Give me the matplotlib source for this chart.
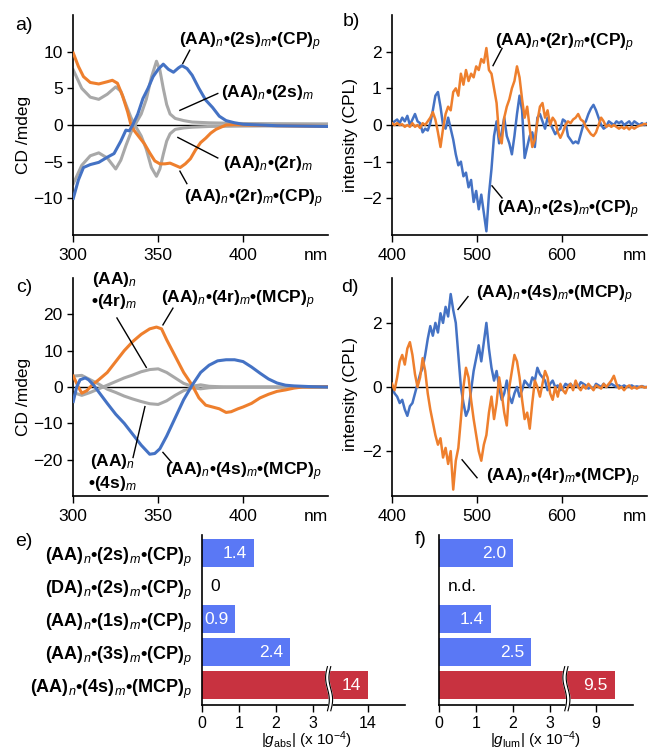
import numpy as np
import matplotlib
matplotlib.use('Agg')
import matplotlib.pyplot as plt

plt.rcParams['font.family'] = ['Liberation Sans', 'DejaVu Sans']
plt.rcParams['mathtext.fontset'] = 'custom'
plt.rcParams['mathtext.rm'] = 'Liberation Sans'
plt.rcParams['mathtext.it'] = 'Liberation Sans:italic'
plt.rcParams['mathtext.bf'] = 'Liberation Sans:bold'
plt.rcParams['axes.linewidth'] = 1.2
plt.rcParams['xtick.major.width'] = 1.0
plt.rcParams['ytick.major.width'] = 1.0
plt.rcParams['xtick.major.size'] = 5
plt.rcParams['xtick.major.pad'] = 4.5
plt.rcParams['ytick.major.size'] = 4
plt.rcParams['font.size'] = 12.5

BLUE = '#4472c4'
ORANGE = '#ee7f2d'
GREY = '#a8a8a8'
BAR_BLUE = '#5a78f5'
BAR_RED = '#c83240'

# ---- a) CD, 2s / 2r series ----
a_blue_x = [300, 303, 306, 310, 315, 320, 324, 328, 331, 333, 335, 338, 341, 344, 347, 350, 353, 356, 359,
            362, 364, 367, 370, 374, 378, 382, 386, 390, 395, 400, 410, 420, 435, 450]
a_blue_y = [-10, -7.5, -5.8, -5.4, -5.1, -4.4, -3.9, -2.2, -0.7, -0.8, 0.0, 1.5, 3.6, 5.0, 6.6, 7.6, 8.3, 7.6, 7.2,
            7.8, 8.1, 7.7, 6.8, 5.0, 3.4, 2.4, 1.2, 0.6, 0.3, 0.1, 0.0, -0.1, -0.15, -0.2]
a_orange_x = [300, 303, 306, 310, 315, 320, 323, 326, 329, 332, 334, 336, 339, 342, 345, 348, 351, 354, 357,
              360, 363, 366, 369, 372, 375, 378, 381, 384, 387, 390, 395, 400, 420, 450]
a_orange_y = [9.8, 8.0, 6.6, 5.8, 5.6, 5.9, 6.1, 5.7, 4.0, 1.8, 0.0, -0.8, -1.7, -2.6, -3.8, -4.9, -5.3, -5.3, -5.2,
              -5.5, -5.8, -5.3, -4.6, -3.4, -2.4, -1.8, -1.1, -0.6, -0.3, 0.0, 0.05, 0.0, -0.1, -0.2]
a_grey_x = [300, 305, 310, 315, 320, 325, 328, 331, 334, 337, 340, 343, 346, 349, 351, 353, 355, 357, 360,
            365, 370, 380, 400, 450]
a_grey_2s = [-8.0, -5.5, -4.2, -3.8, -4.5, -6.0, -4.8, -2.8, -1.0, 0.3, 1.5, 3.5, 6.5, 8.7, 7.5, 5.0, 2.8, 1.5, 0.9,
             0.6, 0.4, 0.3, 0.2, 0.15]
a_grey_2r = [7.5, 5.0, 3.8, 3.5, 4.2, 5.2, 4.6, 2.8, 1.0, -0.3, -1.5, -3.3, -5.8, -7.0, -6.0, -4.0, -2.2, -1.2, -0.6,
             -0.4, -0.3, -0.2, -0.15, -0.1]

# ---- b) CPL, 2s / 2r with CP ----
b_x = list(range(400, 701, 3))
b_blue = [0.05, 0.1, 0.15, 0.05, 0.2, 0.1, 0.25, 0.0, 0.15, 0.3, 0.1, 0.05, -0.2, -0.1, -0.15, 0.05, 0.4, 0.8, 0.9,
          0.5, 0.0, -0.1, 0.2, -0.1, -0.4, -0.8, -1.1, -1.0, -1.4, -1.3, -1.7, -1.5, -2.1, -1.8, -2.3, -1.9, -2.4,
          -2.9, -1.9, -1.2, -0.3, 0.1, -0.5, -0.2, 0.2, -0.3, -0.5, -0.8, -0.3, 0.3, 0.8, 0.4, -0.9, -0.6, -0.3,
          -0.2, -0.6, 0.2, 0.3, 0.1, -0.1, 0.2, 0.05, -0.1, -0.25, -0.15, -0.1, 0.15, 0.1, -0.3, -0.4, -0.5, -0.45,
          -0.5, -0.25, 0.0, 0.1, 0.3, 0.45, 0.55, 0.4, 0.2, 0.0, -0.1, -0.05, 0.1, 0.05, 0.0, 0.1, 0.05, 0.1, 0.0,
          0.05, 0.1, 0.0, 0.1, 0.05, 0.0, 0.05, 0.0, 0.05]
b_orange = [0.05, 0.0, 0.05, 0.0, 0.02, -0.05, 0.0, -0.05, 0.05, -0.05, 0.0, -0.08, 0.05, 0.0, 0.1, 0.2, 0.35, 0.15,
            -0.2, -0.6, -0.1, 0.3, 0.5, 0.4, 0.9, 1.0, 0.8, 1.4, 1.1, 1.5, 1.2, 1.4, 1.3, 1.6, 1.5, 1.8, 1.7, 2.1,
            1.5, 1.4, 1.0, 0.6, -0.3, -0.5, 0.2, 0.5, 0.7, 1.0, 1.2, 1.6, 1.3, 0.7, 0.2, 0.5, -0.1, -0.6, -0.4,
            0.1, 0.5, 0.6, 0.2, 0.4, 0.0, 0.2, 0.1, -0.2, -0.35, -0.2, 0.0, 0.1, 0.05, 0.15, 0.2, 0.3, 0.15, 0.1,
            -0.05, -0.15, -0.25, -0.3, -0.2, 0.0, 0.2, 0.1, -0.05, 0.0, -0.05, 0.0, -0.05, -0.1, -0.05, -0.1,
            -0.05, -0.12, -0.05, -0.1, -0.05, -0.02, 0.0, 0.03, 0.02]

# ---- c) CD, 4s / 4r series ----
c_orange_x = [300, 303, 305, 308, 311, 315, 320, 325, 330, 335, 340, 345, 349, 352, 355, 360, 365, 370, 374, 378,
              382, 386, 390, 393, 397, 400, 405, 410, 415, 420, 425, 430, 435, 440, 450]
c_orange_y = [3.0, 0.0, -1.7, -1.0, 0.5, 2.0, 4.0, 7.0, 10.0, 12.5, 14.5, 16.0, 16.5, 16.0, 13.0, 8.5, 4.0, 0.5,
              -3.0, -5.0, -5.5, -6.0, -7.0, -6.8, -6.0, -5.5, -4.5, -3.0, -2.0, -1.2, -0.8, -0.3, 0.0, 0.0, 0.1]
c_blue_x = [300, 302, 304, 307, 309, 312, 316, 320, 325, 330, 335, 340, 345, 348, 351, 355, 360, 365, 370, 375,
            380, 385, 390, 395, 400, 405, 410, 415, 420, 425, 430, 440, 450]
c_blue_y = [-4.0, 0.0, 2.0, 2.5, 2.0, 0.5, -2.0, -4.5, -7.5, -10.0, -13.0, -16.0, -18.5, -18.3, -17.0, -13.5, -8.5,
            -3.5, 0.5, 4.0, 6.0, 7.2, 7.5, 7.5, 7.0, 5.5, 3.8, 2.2, 1.1, 0.5, 0.3, 0.1, 0.0]
c_grey_x = [300, 305, 310, 315, 320, 325, 330, 335, 340, 345, 350, 355, 360, 365, 370, 375, 380, 390, 400, 450]
c_grey_4r = [-1.5, -2.3, -1.5, -0.5, 0.5, 1.5, 2.5, 3.3, 4.2, 4.8, 5.0, 4.0, 2.5, 1.0, 0.2, 0.6, 0.2, 0.0, 0.0, 0.0]
c_grey_4s = [3.0, 3.2, 2.0, 0.8, -0.6, -1.5, -2.5, -3.3, -4.0, -4.6, -4.8, -3.8, -2.3, -1.0, -0.2, -0.5, -0.2, 0.0,
             0.0, 0.0]

# ---- d) CPL, 4s / 4r with MCP ----
d_x = list(range(400, 701, 3))
d_blue = [0.0, -0.2, -0.3, -0.5, -0.4, -0.7, -0.9, -0.6, -0.5, -0.2, 0.1, 0.4, 0.6, 1.0, 1.5, 1.9, 1.6, 2.0, 1.7,
          2.3, 2.0, 2.5, 2.2, 2.9, 2.4, 2.0, 1.0, 0.0, -0.5, -0.9, -0.7, -0.1, 0.5, 0.9, 1.3, 0.8, 1.4, 2.0, 1.2,
          0.6, 0.2, 0.5, 0.0, -0.4, -0.2, 0.2, -0.3, -0.5, -0.2, 0.0, -0.3, -0.1, 0.2, 0.1, 0.0, 0.3, 0.2, 0.6,
          0.4, 0.3, 0.2, -0.1, 0.1, 0.2, 0.0, 0.05, -0.1, -0.05, 0.1, 0.05, 0.1, 0.0, 0.05, 0.0, 0.15, 0.1, 0.05,
          -0.05, 0.0, -0.05, 0.1, 0.05, 0.0, 0.1, 0.0, 0.05, 0.1, 0.05, 0.0, 0.05, 0.0, 0.05, 0.0, 0.02, 0.05, 0.0,
          0.02, 0.0, 0.03, 0.0, 0.0]
d_orange = [0.1, -0.1, 0.3, 0.8, 1.0, 0.7, 1.2, 1.4, 1.0, 0.4, 0.0, 0.3, 0.9, 0.5, -0.2, -0.7, -1.1, -1.5, -1.8,
            -1.6, -2.2, -1.9, -2.4, -2.0, -3.2, -2.3, -1.9, -1.0, 0.0, 0.6, 0.3, -0.4, -1.0, -1.5, -2.0, -2.3, -1.8,
            -1.5, -0.8, -0.3, -1.0, -0.5, 0.3, -0.2, -0.8, -1.2, 0.0, 0.5, 1.0, 0.8, 0.3, -0.4, -1.0, -0.8, -1.3,
            -0.5, 0.2, 0.0, -0.3, 0.1, 0.5, 0.3, -0.2, -0.4, 0.0, -0.3, 0.1, -0.1, -0.2, 0.0, 0.1, -0.1, 0.2, 0.0,
            -0.1, 0.05, -0.05, 0.1, 0.0, -0.1, 0.05, 0.0, -0.05, 0.1, 0.0, 0.1, 0.2, 0.35, 0.1, -0.05, 0.0, -0.1,
            0.0, 0.05, -0.05, 0.0, -0.05, 0.0, 0.02, -0.02, 0.0]

# ---- e) / f) dissymmetry factors ----
samples = ['(AA)$_n$•(2s)$_m$•(CP)$_p$', '(DA)$_n$•(2s)$_m$•(CP)$_p$', '(AA)$_n$•(1s)$_m$•(CP)$_p$',
           '(AA)$_n$•(3s)$_m$•(CP)$_p$', '(AA)$_n$•(4s)$_m$•(MCP)$_p$']
g_abs = [1.4, 0, 0.9, 2.4, 14]
g_lum = [2.0, np.nan, 1.4, 2.5, 9.5]
bar_colors = [BAR_BLUE, BAR_BLUE, BAR_BLUE, BAR_BLUE, BAR_RED]

fig = plt.figure(figsize=(6.48, 7.53), dpi=100)
ax_a = fig.add_axes([0.1131, 0.688, 0.393, 0.292])
ax_b = fig.add_axes([0.605, 0.688, 0.3935, 0.292])
ax_c = fig.add_axes([0.1131, 0.3413, 0.393, 0.2895])
ax_d = fig.add_axes([0.605, 0.3413, 0.3935, 0.2895])
ax_e = fig.add_axes([0.3117, 0.064, 0.3133, 0.2255])
ax_f = fig.add_axes([0.6775, 0.064, 0.2994, 0.2255])


def style_spec(ax, xlim, ylim, xticks, yticks, ylabel, lab_xy):
    ax.axhline(0, color='black', lw=1.0, zorder=1)
    ax.set_xlim(xlim)
    ax.set_ylim(ylim)
    ax.set_xticks(xticks)
    ax.set_yticks(yticks)
    for s in ['top', 'right']:
        ax.spines[s].set_visible(False)
    ax.set_ylabel(ylabel)
    ax.yaxis.set_label_coords(*lab_xy)
    ax.annotate('nm', (1, 0), xycoords='axes fraction', xytext=(0, -9.5), textcoords='offset points',
                ha='right', va='top')


def label(ax, txt, xy, line):
    (x0, y0), (x1, y1) = line
    ax.plot([x0, x1], [y0, y1], color='black', lw=1.0, zorder=4)
    ax.text(xy[0], xy[1], txt, ha='center', va='center', fontweight='bold')


# a)
ax_a.plot(a_grey_x, a_grey_2s, color=GREY, lw=2.2, zorder=2)
ax_a.plot(a_grey_x, a_grey_2r, color=GREY, lw=2.2, zorder=2)
ax_a.plot(a_orange_x, a_orange_y, color=ORANGE, lw=2.2, zorder=3)
ax_a.plot(a_blue_x, a_blue_y, color=BLUE, lw=2.2, zorder=3)
style_spec(ax_a, (300, 450), (-15, 15), [300, 350, 400], [-10, -5, 0, 5, 10], 'CD /mdeg', (-0.165, 0.455))
label(ax_a, '(AA)$_n$•(2s)$_m$•(CP)$_p$', (404, 11.3), ((364.5, 8.4), (368.6, 10.2)))
label(ax_a, '(AA)$_n$•(2s)$_m$', (414.6, 4.4), ((362.8, 2.0), (385.1, 4.3)))
label(ax_a, '(AA)$_n$•(2r)$_m$', (414.6, -5.2), ((361.6, -1.7), (385.1, -4.5)))
label(ax_a, '(AA)$_n$•(2r)$_m$•(CP)$_p$', (406.3, -10), ((362.8, -6.3), (366.9, -8.0)))

# b)
ax_b.plot(b_x, b_blue, color=BLUE, lw=1.8, zorder=2)
ax_b.plot(b_x, b_orange, color=ORANGE, lw=1.8, zorder=3)
style_spec(ax_b, (400, 700), (-3, 3), [400, 500, 600], [-2, -1, 0, 1, 2], 'intensity (CPL)', (-0.133, 0.455))
label(ax_b, '(AA)$_n$•(2r)$_m$•(CP)$_p$', (603.5, 2.25), ((518.8, 1.62), (529.4, 2.09)))
label(ax_b, '(AA)$_n$•(2s)$_m$•(CP)$_p$', (607, -2.32), ((517.6, -1.66), (529.4, -1.99)))

# c)
ax_c.plot(c_grey_x, c_grey_4r, color=GREY, lw=2.2, zorder=2)
ax_c.plot(c_grey_x, c_grey_4s, color=GREY, lw=2.2, zorder=2)
ax_c.plot(c_orange_x, c_orange_y, color=ORANGE, lw=2.2, zorder=3)
ax_c.plot(c_blue_x, c_blue_y, color=BLUE, lw=2.2, zorder=3)
style_spec(ax_c, (300, 450), (-30, 30), [300, 350, 400], [-20, -10, 0, 10, 20], 'CD /mdeg', (-0.166, 0.454))
label(ax_c, '(AA)$_n$•(4r)$_m$•(MCP)$_p$', (397, 23.9), ((352.8, 17.1), (358.7, 21.7)))
label(ax_c, '(AA)$_n$•(4s)$_m$•(MCP)$_p$', (400.4, -23.2), ((352.8, -18.0), (358.0, -20.8)))
label(ax_c, '(AA)$_n$\n•(4r)$_m$', (324, 26.5), ((325.7, 19.0), (343.0, 5.4)))
label(ax_c, '(AA)$_n$\n•(4s)$_m$', (323, -23.5), ((335.2, -19.4), (342.2, -5.4)))

# d)
ax_d.plot(d_x, d_blue, color=BLUE, lw=1.8, zorder=2)
ax_d.plot(d_x, d_orange, color=ORANGE, lw=1.8, zorder=3)
style_spec(ax_d, (400, 700), (-3.4, 3.4), [400, 500, 600], [-2, 0, 2], 'intensity (CPL)', (-0.133, 0.47))
label(ax_d, '(AA)$_n$•(4s)$_m$•(MCP)$_p$', (590.6, 2.88), ((477.6, 2.42), (489.4, 2.82)))
label(ax_d, '(AA)$_n$•(4r)$_m$•(MCP)$_p$', (601, -2.83), ((482.4, -2.27), (500.0, -2.83)))


def broken_scale(lo, hi, eps=0.001):
    def fwd(v):
        v = np.asarray(v, dtype=float)
        return np.where(v <= lo, v, np.where(v < hi, lo + (v - lo) * eps, lo + (hi - lo) * eps + (v - hi)))

    def inv(u):
        u = np.asarray(u, dtype=float)
        top = lo + (hi - lo) * eps
        return np.where(u <= lo, u, np.where(u < top, lo + (u - lo) / eps, hi + (u - top)))
    return fwd, inv


def draw_break(ax):
    t = np.linspace(0, 1, 50)
    y = -0.035 + 0.26 * t
    wave = 0.05 * np.sin(2 * np.pi * t)
    xl = 3.45 + wave - 0.045
    xr = 3.45 + wave + 0.045
    trans = ax.get_xaxis_transform()
    ax.fill(np.r_[xl, xr[::-1]], np.r_[y, y[::-1]], color='white', transform=trans, zorder=5, clip_on=False)
    ax.plot(xl, y, color='black', lw=0.8, transform=trans, zorder=6, clip_on=False)
    ax.plot(xr, y, color='black', lw=0.8, transform=trans, zorder=6, clip_on=False)


def style_bars(ax, vals, fmt, hi, xmax, xticks, xlabel, lab_x, show_names):
    pos = np.arange(len(vals))
    ax.set_xscale('function', functions=broken_scale(3.6, hi))
    ax.barh(pos, np.nan_to_num(vals), height=0.86, color=bar_colors, zorder=2)
    for p, v in zip(pos, vals):
        if np.isnan(v):
            ax.annotate('n.d.', (0, p), xytext=(6, 0), textcoords='offset points', ha='left', va='center')
        elif v == 0:
            ax.annotate(fmt.format(v), (0, p), xytext=(6, 0), textcoords='offset points', ha='left', va='center')
        else:
            ax.annotate(fmt.format(v), (v, p), xytext=(-5, 0), textcoords='offset points', ha='right',
                        va='center', color='white', zorder=7)
    ax.set_ylim(4.6, -0.55)
    ax.set_xlim(0, xmax)
    ax.set_xticks(xticks)
    ax.set_xticklabels([str(x) for x in xticks])
    ax.tick_params(axis='x', labelsize=11.5, pad=3)
    ax.set_yticks(pos)
    if show_names:
        ax.set_yticklabels(samples, fontweight='bold', fontsize=13)
    else:
        ax.set_yticklabels([])
    ax.tick_params(axis='y', length=0, pad=7)
    for s in ['top', 'right']:
        ax.spines[s].set_visible(False)
    ax.set_xlabel(xlabel, fontsize=11)
    ax.xaxis.set_label_coords(lab_x, -0.145)
    draw_break(ax)
    ax.set_xlim(0, xmax)


style_bars(ax_e, g_abs, '{:g}', 13.1, 15, [0, 1, 2, 3, 14], '|$g_{\\mathrm{abs}}$| (x 10$^{-4}$)', 0.517, True)
style_bars(ax_f, g_lum, '{:.1f}', 8.35, 10, [0, 1, 2, 3, 9], '|$g_{\\mathrm{lum}}$| (x 10$^{-4}$)', 0.495, False)

for ax, letter, (px, py) in [(ax_a, 'a)', (24, 25)), (ax_b, 'b)', (351, 21)), (ax_c, 'c)', (24, 287)),
                            (ax_d, 'd)', (350, 288)), (ax_e, 'e)', (24, 541)), (ax_f, 'f)', (421, 540))]:
    fig.text(px / 648, 1 - py / 753, letter, ha='center', va='center', fontsize=14)

fig.savefig('out.png', dpi=100)
